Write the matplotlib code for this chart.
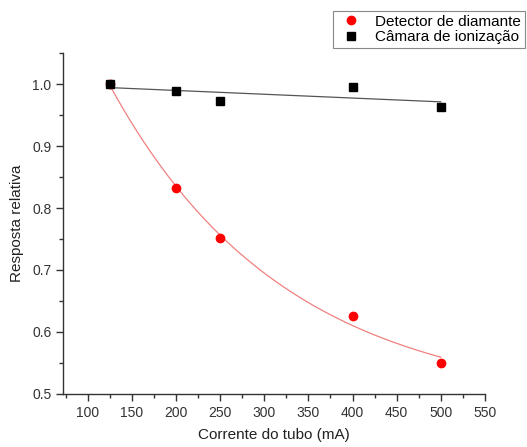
import numpy as np
import matplotlib
matplotlib.use("Agg")
import matplotlib.pyplot as plt
from matplotlib.ticker import MultipleLocator

plt.rcParams['font.family'] = ['Liberation Sans', 'DejaVu Sans']

# data
corrente = [125, 200, 250, 400, 500]
diamante = [1.0, 0.832, 0.751, 0.625, 0.550]
camara = [1.0, 0.989, 0.972, 0.996, 0.963]

x = np.array(corrente, dtype=float)
yd = np.array(diamante)
yc = np.array(camara)

# linear fit for ionization chamber
pc = np.polyfit(x, yc, 1)

# exponential decay fit y = y0 + A*exp(-x/t) (grid over t, least squares for y0, A)
best = None
for tau in np.linspace(50, 2000, 2000):
    M = np.column_stack([np.ones_like(x), np.exp(-x / tau)])
    coef, res, _, _ = np.linalg.lstsq(M, yd, rcond=None)
    err = np.sum((M @ coef - yd) ** 2)
    if best is None or err < best[0]:
        best = (err, tau, coef)
_, tau, coef = best

xf = np.linspace(125, 500, 200)

fig = plt.figure(figsize=(5.27, 4.47), dpi=100)
ax = fig.add_axes([0.12, 0.119, 0.80, 0.762])

ax.plot(xf, coef[0] + coef[1] * np.exp(-xf / tau), color='#f08080', lw=0.9, zorder=1)
ax.plot(xf, np.polyval(pc, xf), color='#555555', lw=0.9, zorder=1)
ax.plot(x, yd, 'o', color='#ff0000', ms=6, zorder=3, label='Detector de diamante')
ax.plot(x, yc, 's', color='black', ms=5.5, zorder=4, label='Câmara de ionização')

ax.set_xlim(72, 550)
ax.set_ylim(0.5, 1.05)
ax.xaxis.set_major_locator(MultipleLocator(50))
ax.xaxis.set_minor_locator(MultipleLocator(25))
ax.yaxis.set_major_locator(MultipleLocator(0.1))
ax.yaxis.set_minor_locator(MultipleLocator(0.05))
ax.yaxis.set_major_formatter(plt.FormatStrFormatter('%.1f'))

for s in ['top', 'right']:
    ax.spines[s].set_visible(False)
for s in ['left', 'bottom']:
    ax.spines[s].set_color('#333333')
    ax.spines[s].set_linewidth(1.0)
ax.tick_params(which='major', direction='out', length=5, width=1, colors='#333333', labelsize=10, labelcolor='#333333')
ax.tick_params(which='minor', direction='out', length=3, width=1, colors='#333333')

ax.set_xlabel('Corrente do tubo (mA)', fontsize=11, color='#222222', labelpad=6)
ax.set_ylabel('Resposta relativa', fontsize=11, color='#222222', labelpad=6)

leg = fig.legend(loc='upper left', bbox_to_anchor=(333 / 527, 1 - 11 / 447), fontsize=11,
                 frameon=True, fancybox=False, edgecolor='#888888', framealpha=1,
                 handletextpad=0.7, borderpad=0.25, labelspacing=0.1, handlelength=1.8,
                 borderaxespad=0)
leg.get_frame().set_linewidth(0.8)

fig.savefig('out.png', dpi=100)
